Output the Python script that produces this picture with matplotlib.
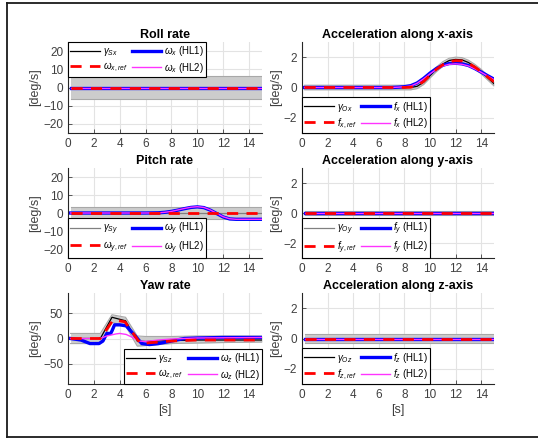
import matplotlib
matplotlib.use("Agg")
import matplotlib.pyplot as plt
from matplotlib.lines import Line2D

plt.rcParams['font.family'] = ['Liberation Sans', 'DejaVu Sans']
plt.rcParams['mathtext.fontset'] = 'custom'
plt.rcParams['mathtext.it'] = 'Liberation Sans:italic'
plt.rcParams['mathtext.rm'] = 'Liberation Sans'

# ---- data ----
# roll rate (all flat)
t_roll = [0.2, 15]
roll_zero = [0, 0]
roll_band = [6.5, 6.5]

# pitch rate
t_pitch = [0.2, 2, 4, 6, 7, 7.5, 8, 8.5, 9, 9.5, 10, 10.5, 11, 11.5, 12, 12.5, 13, 14, 15]
pitch_hl1 = [0, 0, 0, 0, 0.1, 0.4, 0.9, 1.6, 2.4, 3.1, 3.4, 3.0, 1.6, -0.3, -2.2, -3.3, -3.5, -3.5, -3.5]
pitch_hl2 = [0, 0, 0, 0, 0.1, 0.4, 0.9, 1.7, 2.5, 3.2, 3.5, 3.1, 1.7, -0.2, -2.1, -3.2, -3.5, -3.5, -3.5]
pitch_zero = [0, 0]
pitch_band = [3.5, 3.5]

# yaw rate
t_yaw_g = [0.2, 2.5, 3.4, 4.45, 5.35, 6, 7, 8, 10, 12, 15]
yaw_gamma = [0, 0, 42, 35, -5, -6, -5, -4, -3, -3, -3]
yaw_band_hi = [10, 10, 47, 42, 5, 4, 4, 4, 5, 5, 5]
yaw_band_lo = [-10, -10, 32, 25, -15, -14, -12, -10, -9, -8, -7]
t_yaw_ref = [0.2, 2.5, 3.5, 4.4, 5.6, 6.5, 8, 10, 15]
yaw_ref = [0, 0, 37, 33, -10, -8, -5, -3, -3]
t_yaw_hl1 = [0.2, 1, 1.7, 2.4, 2.7, 3.0, 3.3, 3.4, 3.6, 4.0, 4.5, 5.2, 5.7, 6.3, 7, 8, 9, 10, 12, 15]
yaw_hl1 = [0, -3, -10, -10, -5, 10, 10, 15, 27, 27, 25, 5, -10, -12, -10, -5, 0, 1, 2, 2]
t_yaw_hl2 = [0.2, 2.5, 3, 3.7, 4, 4.5, 5, 5.5, 6, 7, 8, 10, 15]
yaw_hl2 = [0, 0, 5, 9, 10, 8, 2, -5, -6, -3, -1, 1, 2]

# acceleration along x
t_ax = [0.2, 2, 4, 6, 7, 7.5, 8, 8.5, 9, 9.5, 10, 10.5, 11, 11.5, 12, 12.5, 13, 13.5, 14, 14.5, 15]
ax_gamma = [0, 0, 0, 0, 0, 0, 0, 0, 0.08, 0.35, 0.78, 1.2, 1.55, 1.78, 1.85, 1.82, 1.65, 1.38, 1.05, 0.65, 0.25]
ax_ref = [0, 0, 0, 0, 0, 0, 0, 0.02, 0.12, 0.4, 0.8, 1.2, 1.5, 1.7, 1.77, 1.75, 1.6, 1.35, 1.05, 0.7, 0.38]
ax_hl1 = [0, 0, 0, 0, 0, 0.02, 0.05, 0.12, 0.3, 0.6, 0.95, 1.25, 1.47, 1.58, 1.6, 1.56, 1.45, 1.25, 1.02, 0.78, 0.55]
ax_hl2 = [0, 0, 0, 0, 0, 0.02, 0.05, 0.1, 0.28, 0.57, 0.9, 1.2, 1.42, 1.53, 1.56, 1.53, 1.42, 1.23, 1.0, 0.76, 0.52]
ax_tol = 0.15

# acceleration along y / z (flat)
t_flat = [0.2, 15]
ay_zero = [0, 0]
ay_band = [0.15, 0.15]
az_zero = [0, 0]
az_band = [0.3, 0.3]

fig = plt.figure(figsize=(5.38, 4.43), dpi=100)
W, H = 538, 443


def make_ax(x0, x1, y0, y1):
    a = fig.add_axes([x0 / W, 1 - y1 / H, (x1 - x0) / W, (y1 - y0) / H])
    for s in ['top', 'right']:
        a.spines[s].set_visible(False)
    for s in ['left', 'bottom']:
        a.spines[s].set_color('#262626')
        a.spines[s].set_linewidth(0.8)
    a.grid(True, color='#e3e3e3', linewidth=0.8)
    a.set_axisbelow(True)
    a.tick_params(direction='in', labelsize=8.5, colors='#404040', length=3, width=0.6)
    a.set_xlim(0, 15)
    a.set_xticks(range(0, 15, 2))
    a.set_ylabel('[deg/s]', fontsize=9, color='#404040', labelpad=1)
    return a


def draw(a, tg, lo, hi, gamma, tr, ref, t1, hl1, t2, hl2, labels, loc, gcol='k'):
    a.fill_between(tg, lo, hi, color='#cccccc', lw=0)
    a.plot(tg, lo, color='#a8a8a8', lw=0.8)
    a.plot(tg, hi, color='#a8a8a8', lw=0.8)
    lg, = a.plot(tg, gamma, color=gcol, lw=0.9)
    lb, = a.plot(t1, hl1, color='#0000ff', lw=2.4)
    lm, = a.plot(t2, hl2, color='#ff33ff', lw=1.0)
    lr, = a.plot(tr, ref, color='#ff0000', lw=2.0, ls=(0, (4, 3)))
    leg = a.legend([lg, lr, lb, lm], labels, ncol=2, loc=loc, fontsize=7,
                   frameon=True, fancybox=False, edgecolor='k', framealpha=1,
                   borderaxespad=0, borderpad=0.25, labelspacing=0.25,
                   columnspacing=0.5, handletextpad=0.3, handlelength=3.0)
    leg.get_frame().set_linewidth(0.8)


def title(a, s):
    a.set_title(s, fontsize=9, fontweight='bold', pad=3)


lx0, lx1, rx0, rx1 = 68, 262, 302, 494
rows = [(42, 133), (168, 258), (293, 384)]

# Roll
a = make_ax(lx0, lx1, *rows[0])
neg = [-v for v in roll_band]
draw(a, t_roll, neg, roll_band, roll_zero, t_roll, roll_zero, t_roll, roll_zero, t_roll, roll_zero,
     [r'$\gamma_{Sx}$', r'$\omega_{x,ref}$', r'$\omega_x$ (HL1)', r'$\omega_x$ (HL2)'], 'upper left')
a.set_ylim(-25, 25)
a.set_yticks([-20, -10, 0, 10, 20])
title(a, 'Roll rate')

# Pitch
a = make_ax(lx0, lx1, *rows[1])
neg = [-v for v in pitch_band]
draw(a, t_roll, neg, pitch_band, pitch_zero, t_roll, pitch_zero, t_pitch, pitch_hl1, t_pitch, pitch_hl2,
     [r'$\gamma_{Sy}$', r'$\omega_{y,ref}$', r'$\omega_y$ (HL1)', r'$\omega_y$ (HL2)'], 'lower left', gcol='#808080')
a.set_ylim(-25, 25)
a.set_yticks([-20, -10, 0, 10, 20])
title(a, 'Pitch rate')

# Yaw
a = make_ax(lx0, lx1, *rows[2])
draw(a, t_yaw_g, yaw_band_lo, yaw_band_hi, yaw_gamma, t_yaw_ref, yaw_ref, t_yaw_hl1, yaw_hl1, t_yaw_hl2, yaw_hl2,
     [r'$\gamma_{Sz}$', r'$\omega_{z,ref}$', r'$\omega_z$ (HL1)', r'$\omega_z$ (HL2)'], 'lower right')
a.set_ylim(-90, 90)
a.set_yticks([-50, 0, 50])
a.set_xlabel('[s]', fontsize=9, color='#404040', labelpad=2)
title(a, 'Yaw rate')

# Acc x
a = make_ax(rx0, rx1, *rows[0])
lo = [v - ax_tol for v in ax_gamma]
hi = [v + ax_tol for v in ax_gamma]
draw(a, t_ax, lo, hi, ax_gamma, t_ax, ax_ref, t_ax, ax_hl1, t_ax, ax_hl2,
     [r'$\gamma_{Ox}$', r'$f_{x,ref}$', r'$f_x$ (HL1)', r'$f_x$ (HL2)'], 'lower left')
a.set_ylim(-3, 3)
a.set_yticks([-2, 0, 2])
title(a, 'Acceleration along x-axis')

# Acc y
a = make_ax(rx0, rx1, *rows[1])
neg = [-v for v in ay_band]
draw(a, t_flat, neg, ay_band, ay_zero, t_flat, ay_zero, t_flat, ay_zero, t_flat, ay_zero,
     [r'$\gamma_{Oy}$', r'$f_{y,ref}$', r'$f_y$ (HL1)', r'$f_y$ (HL2)'], 'lower left', gcol='#808080')
a.set_ylim(-3, 3)
a.set_yticks([-2, 0, 2])
title(a, 'Acceleration along y-axis')

# Acc z
a = make_ax(rx0, rx1, *rows[2])
neg = [-v for v in az_band]
draw(a, t_flat, neg, az_band, az_zero, t_flat, az_zero, t_flat, az_zero, t_flat, az_zero,
     [r'$\gamma_{Oz}$', r'$f_{z,ref}$', r'$f_z$ (HL1)', r'$f_z$ (HL2)'], 'lower left')
a.set_ylim(-3, 3)
a.set_yticks([-2, 0, 2])
a.set_xlabel('[s]', fontsize=9, color='#404040', labelpad=2)
title(a, 'Acceleration along z-axis')

# outer frame (left, top, bottom edges)
xl, yt, yb = 6.5 / W, 1 - 2.5 / H, 1 - 437 / H
fig.add_artist(Line2D([xl, 1], [yt, yt], color='#1a1a1a', lw=1.3))
fig.add_artist(Line2D([xl, xl], [yt, yb], color='#1a1a1a', lw=1.3))
fig.add_artist(Line2D([xl, 1], [yb, yb], color='#1a1a1a', lw=1.3))

fig.savefig('out.png', dpi=100)
